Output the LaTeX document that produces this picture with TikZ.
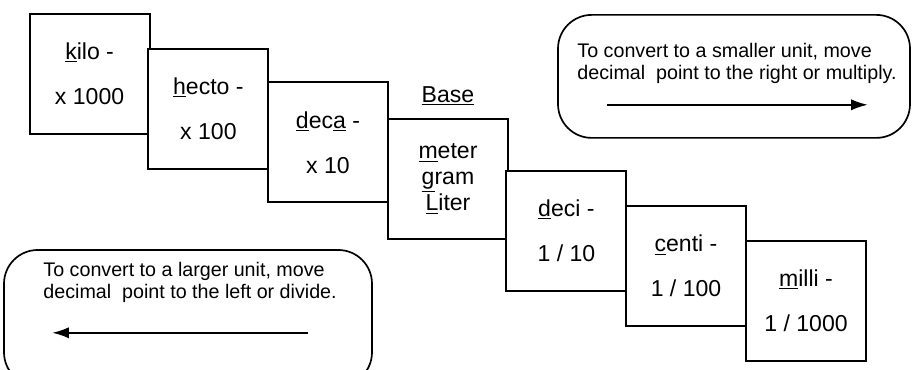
\documentclass[tikz,border=0pt]{standalone}
\usepackage{fontspec}
\setmainfont{Liberation Sans}
\usetikzlibrary{arrows.meta}

\begin{document}
\begin{tikzpicture}[
    unitbox/.style={draw, line width=1.5pt, fill=white, minimum width=3cm, minimum height=3cm, inner sep=0pt, align=center, font=\fontsize{16.4}{20}\selectfont},
    notebox/.style={draw, line width=1.2pt, rounded corners=24pt, minimum width=#1},
    note/.style={anchor=north west, inner sep=0pt, align=left, font=\fontsize{14}{15.6}\selectfont},
    arrow/.style={-{Latex[length=12pt,width=8pt]}, line width=1.6pt}
]
    \clip (0,0) rectangle (22.8,9.25);

    % Hinweiskaesten
    \node[notebox=8.8cm, minimum height=3.075cm] (smaller) at (18.35, 7.34) {};
    \node[notebox=9.2cm, minimum height=3.4cm] (larger) at (4.7, 1.3) {};
    \node[note] (smallertext) at (14.43, 8.18) {To convert to a smaller unit, move\\decimal\ \ point to the right or multiply.};
    \node[note] (largertext) at (1.08, 2.7) {To convert to a larger unit, move\\decimal\ \ point to the left or divide.};
    \coordinate (rstart) at (15.18, 6.63);
    \coordinate (rend) at (21.7, 6.63);
    \coordinate (lstart) at (7.7, 0.93);
    \coordinate (lend) at (1.3, 0.93);
    \draw[arrow] (rstart) -- (rend);
    \draw[arrow] (lstart) -- (lend);

    % Einheitenstufen
    \node[unitbox] (kilo) at (2.24, 7.41) {\underline{k}ilo -\\[12pt]x 1000};
    \node[unitbox] (hecto) at (5.21, 6.53) {\underline{h}ecto -\\[12pt]x 100};
    \node[unitbox] (deca) at (8.2, 5.69) {\underline{d}ec\underline{a} -\\[12pt]x 10};
    \node[unitbox, font=\fontsize{16.4}{18.5}\selectfont] (base) at (11.2, 4.78) {\underline{m}eter\\\underline{g}ram\\\underline{L}iter};
    \node[unitbox] (deci) at (14.16, 3.48) {\underline{d}eci -\\[12pt]1 / 10};
    \node[unitbox] (centi) at (17.15, 2.6) {\underline{c}enti -\\[12pt]1 / 100};
    \node[unitbox] (milli) at (20.15, 1.73) {\underline{m}illi -\\[12pt]1 / 1000};

    \node[font=\fontsize{16.4}{20}\selectfont, inner sep=0pt] (baselabel) at (11.2, 6.85) {\underline{Base}};
\end{tikzpicture}
\end{document}
